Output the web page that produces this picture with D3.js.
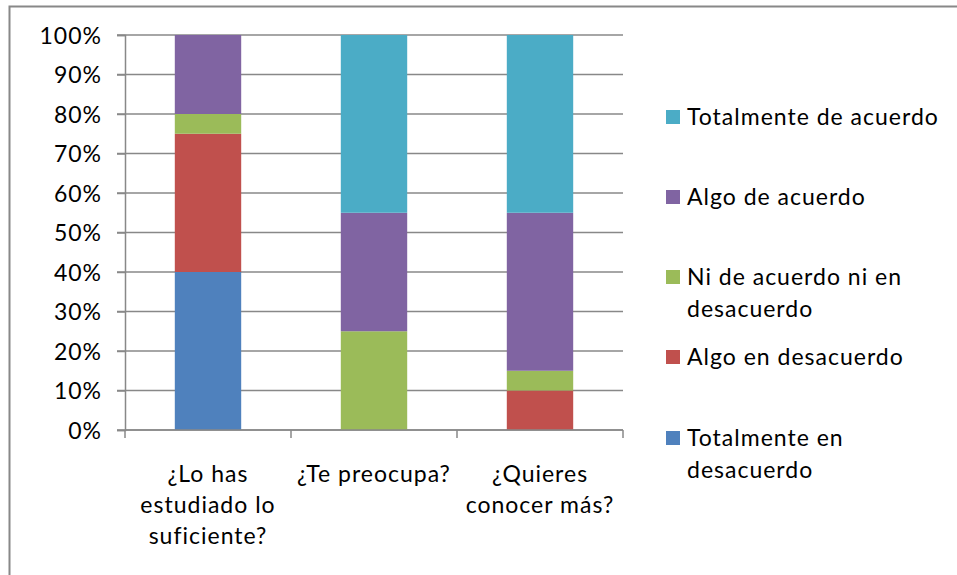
<!DOCTYPE html>
<html><head><meta charset="utf-8">
<script src="https://cdn.jsdelivr.net/npm/d3@7"></script>
<style>
body{margin:0;background:#fff;}
text{font-family:Lato,"Open Sans",sans-serif;fill:#000;letter-spacing:1px;}
</style></head>
<body><svg id="c" width="957" height="575"></svg>
<script>
const categories = [["¿Lo has","estudiado lo","suficiente?"],["¿Te preocupa?"],["¿Quieres","conocer más?"]];
const seriesNames = ["Totalmente en desacuerdo","Algo en desacuerdo","Ni de acuerdo ni en desacuerdo","Algo de acuerdo","Totalmente de acuerdo"];
const legendLines = [["Totalmente en","desacuerdo"],["Algo en desacuerdo"],["Ni de acuerdo ni en","desacuerdo"],["Algo de acuerdo"],["Totalmente de acuerdo"]];
const colors = ["#4F81BD","#C0504D","#9BBB59","#8064A2","#4BACC6"];
const totDesacuerdo = [40,0,0];
const algoDesacuerdo = [35,0,10];
const niNi = [5,25,5];
const algoAcuerdo = [20,30,40];
const totAcuerdo = [0,45,45];
const yTicks = [0,10,20,30,40,50,60,70,80,90,100];

const FS = 23;
const svg = d3.select("#c");
svg.append("rect").attr("x",9.5).attr("y",6.5).attr("width",1000).attr("height",1000)
  .attr("fill","none").attr("stroke","#888").attr("stroke-width",2);

const m = {l:125,r:623,t:35,b:430};
const idx = [0,1,2];
const x = d3.scaleBand().domain(idx).range([m.l,m.r]).paddingInner(0.6).paddingOuter(0.3);
const y = d3.scaleLinear().domain([0,100]).range([m.b,m.t]);

const data = idx.map(i=>({i, s0:totDesacuerdo[i], s1:algoDesacuerdo[i], s2:niNi[i], s3:algoAcuerdo[i], s4:totAcuerdo[i]}));
const stack = d3.stack().keys(["s0","s1","s2","s3","s4"])(data);

// gridlines
svg.append("g").selectAll("line").data(yTicks).join("line")
  .attr("x1",117).attr("x2",m.r).attr("y1",d=>y(d)).attr("y2",d=>y(d))
  .attr("stroke","#888").attr("stroke-width",1.5);

// bars
svg.append("g").selectAll("g").data(stack).join("g").attr("fill",(d,k)=>colors[k])
  .selectAll("rect").data(d=>d).join("rect")
  .attr("x",d=>x(d.data.i)).attr("width",x.bandwidth())
  .attr("y",d=>y(d[1])).attr("height",d=>y(d[0])-y(d[1]));

// y axis
const ya = svg.append("g").attr("transform",`translate(${m.l},0)`)
  .call(d3.axisLeft(y).tickValues(yTicks).tickSize(8).tickFormat(d=>d+"%"));
ya.select(".domain").attr("stroke","#888").attr("stroke-width",1.5);
ya.selectAll(".tick line").attr("stroke","#888").attr("stroke-width",1.5);
ya.selectAll(".tick text").attr("font-family","Lato").attr("font-size",FS).attr("x",-23).attr("dy","0.36em").attr("fill","#000");

// x axis
const step = (m.r-m.l)/3;
const xb = [0,1,2,3].map(k=>m.l+k*step);
svg.append("line").attr("x1",m.l).attr("x2",m.r).attr("y1",m.b).attr("y2",m.b).attr("stroke","#888").attr("stroke-width",1.5);
svg.append("g").selectAll("line").data(xb).join("line")
  .attr("x1",d=>d).attr("x2",d=>d).attr("y1",m.b).attr("y2",m.b+8).attr("stroke","#888").attr("stroke-width",1.5);

svg.append("g").selectAll("text").data(idx).join("text")
  .attr("text-anchor","middle").attr("font-size",FS)
  .attr("transform",i=>`translate(${x(i)+x.bandwidth()/2},482)`)
  .selectAll("tspan").data(i=>categories[i]).join("tspan")
  .attr("x",0).attr("dy",(d,j)=>j?31:0).text(d=>d);

// legend
const legY = [438,357,277,197,117];
const lg = svg.append("g").selectAll("g").data(seriesNames).join("g")
  .attr("transform",(d,k)=>`translate(666,${legY[k]})`);
lg.append("rect").attr("x",0).attr("y",-7).attr("width",14).attr("height",14).attr("fill",(d,k)=>colors[k]);
lg.append("text").attr("x",21).attr("y",8).attr("font-size",FS)
  .selectAll("tspan").data((d,k)=>legendLines[k]).join("tspan")
  .attr("x",21).attr("dy",(d,j)=>j?32:0).text(d=>d);
</script></body></html>
